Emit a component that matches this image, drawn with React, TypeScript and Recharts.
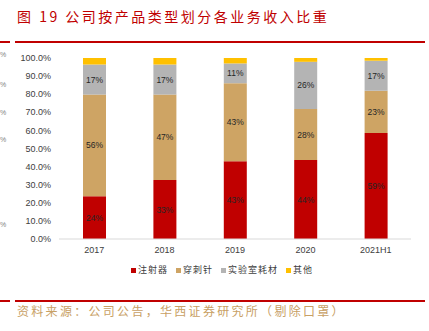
import React from "react";
import { BarChart, Bar, XAxis, YAxis, LabelList } from "recharts";

const categories = ["2017", "2018", "2019", "2020", "2021H1"];
const syringe = [23.6, 32.6, 43.0, 43.6, 58.6];
const needle = [56.2, 47.2, 43.1, 28.2, 23.3];
const labware = [16.6, 16.6, 10.9, 26.1, 16.6];
const other = [3.6, 3.6, 3.0, 2.1, 1.5];
const yTicks = [0, 10, 20, 30, 40, 50, 60, 70, 80, 90, 100];

const series = [
  { key: "syringe", name: "注射器", color: "#C00000", values: syringe, label: true },
  { key: "needle", name: "穿刺针", color: "#CEA464", values: needle, label: true },
  { key: "labware", name: "实验室耗材", color: "#B4B4B4", values: labware, label: true },
  { key: "other", name: "其他", color: "#FFC000", values: other, label: false },
];

const data = categories.map((name, i) => {
  const row: Record<string, string | number> = { name };
  series.forEach((s) => {
    row[s.key] = s.values[i];
  });
  return row;
});

const cjk = "'Noto Sans CJK SC', sans-serif";
const latin = "'Liberation Sans', Arial, sans-serif";

const RedRule = ({ top }: { top: number }) => (
  <>
    <div style={{ position: "absolute", left: 0, top, width: 10, height: 2, background: "#C00000" }} />
    <div style={{ position: "absolute", left: 15, top, width: 410, height: 2, background: "#C00000" }} />
  </>
);

const App: React.FC = () => {
  return (
    <div
      style={{
        position: "absolute",
        left: 0,
        top: 0,
        width: 429,
        height: 331,
        overflow: "hidden",
        background: "#fff",
      }}
    >
      <div
        style={{
          position: "absolute",
          left: 17,
          top: 8,
          fontFamily: cjk,
          fontSize: 14,
          lineHeight: "16px",
          letterSpacing: 2.5,
          color: "#C00000",
          whiteSpace: "nowrap",
        }}
      >
        图 19 公司按产品类型划分各业务收入比重
      </div>
      <RedRule top={41} />

      {/* leftover marks from the neighbouring chart */}
      {[55, 85, 113, 140, 225].map((y) => (
        <span
          key={y}
          style={{
            position: "absolute",
            left: 0,
            top: y - 5,
            fontFamily: latin,
            fontSize: 7,
            lineHeight: "10px",
            color: "#7F7F7F",
          }}
        >
          %
        </span>
      ))}

      <div style={{ position: "absolute", left: 0, top: 0 }}>
        <BarChart
          width={429}
          height={331}
          data={data}
          margin={{ top: 58, right: 18, left: 0, bottom: 72 }}
          barSize={23}
        >
          <XAxis
            dataKey="name"
            axisLine={{ stroke: "#D9D9D9" }}
            tickLine={false}
            height={20}
            tick={{ fontSize: 9, fill: "#404040", fontFamily: latin }}
          />
          <YAxis
            width={59}
            domain={[0, 100]}
            ticks={yTicks}
            axisLine={false}
            tickLine={false}
            tickFormatter={(v) => `${v}.0%`}
            tick={{ fontSize: 9, fill: "#404040", fontFamily: latin }}
          />
          {series.map((s) => (
            <Bar
              key={s.key}
              dataKey={s.key}
              name={s.name}
              stackId="a"
              fill={s.color}
              isAnimationActive={false}
            >
              {s.label && (
                <LabelList
                  dataKey={s.key}
                  position="center"
                  formatter={(v: number) => `${Math.round(v)}%`}
                  style={{ fontSize: 8.5, fill: "#262626", fontFamily: latin }}
                />
              )}
            </Bar>
          ))}
        </BarChart>
      </div>

      <div
        style={{
          position: "absolute",
          left: 131,
          top: 264,
          display: "flex",
          alignItems: "center",
          gap: 8,
          fontFamily: cjk,
          fontSize: 9,
          lineHeight: "12px",
          letterSpacing: 1,
          color: "#404040",
          whiteSpace: "nowrap",
        }}
      >
        {series.map((s) => (
          <div key={s.key} style={{ display: "flex", alignItems: "center", gap: 2 }}>
            <span style={{ display: "inline-block", width: 5, height: 5, background: s.color }} />
            <span>{s.name}</span>
          </div>
        ))}
      </div>

      <RedRule top={300} />
      <div
        style={{
          position: "absolute",
          left: 17,
          top: 304,
          fontFamily: cjk,
          fontSize: 12,
          lineHeight: "14px",
          letterSpacing: 2.3,
          color: "#C8A064",
          whiteSpace: "nowrap",
        }}
      >
        资料来源：公司公告，华西证券研究所（剔除口罩）
      </div>
    </div>
  );
};

export default App;
